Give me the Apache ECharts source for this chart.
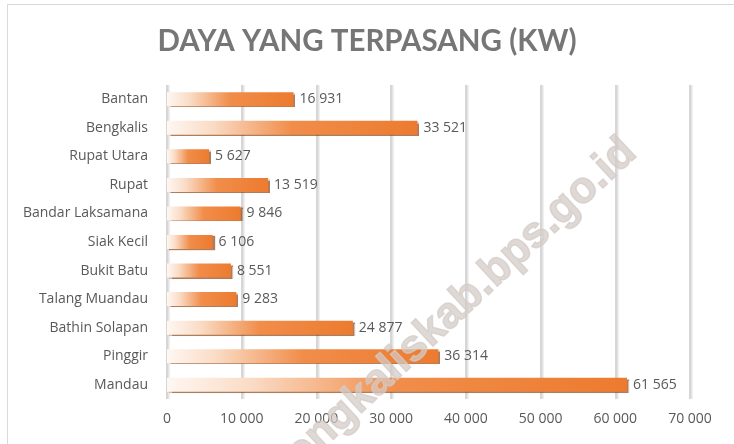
<!DOCTYPE html>
<html>
<head>
<meta charset="utf-8">
<script src="https://cdn.jsdelivr.net/npm/echarts@6/dist/echarts.min.js"></script>
<style>
  html, body { margin: 0; padding: 0; background: #fff; }
  #chart { width: 734px; height: 444px; }
</style>
</head>
<body>
<div id="chart"></div>
<script>
const categories = [
  'Bantan', 'Bengkalis', 'Rupat Utara', 'Rupat', 'Bandar Laksamana',
  'Siak Kecil', 'Bukit Batu', 'Talang Muandau', 'Bathin Solapan', 'Pinggir', 'Mandau'
]
const values = [16931, 33521, 5627, 13519, 9846, 6106, 8551, 9283, 24877, 36314, 61565]

const TEXT_COLOR = '#595959'
const TITLE_COLOR = '#767676'
const GRID_COLOR = '#d6d6d6'
const FONT = '"Open Sans", Lato, sans-serif'

// thousands with a space, like the source
function fmt(v) {
  return String(v).replace(/\B(?=(\d{3})+(?!\d))/g, ' ')
}

const barGradient = new echarts.graphic.LinearGradient(0, 0, 1, 0, [
  { offset: 0, color: '#fef7f2' },
  { offset: 0.18, color: '#fadcc6' },
  { offset: 0.5, color: '#f18d4a' },
  { offset: 1, color: '#ec7b2f' },
])

const chart = echarts.init(document.getElementById('chart'), null, { renderer: 'canvas' })

chart.setOption({
  backgroundColor: '#fff',
  animation: false,
  title: {
    text: 'DAYA YANG TERPASANG (KW)',
    left: 'center',
    top: 21,
    textStyle: {
      color: TITLE_COLOR,
      fontFamily: 'Lato, "Open Sans", sans-serif',
      fontWeight: 'bold',
      fontSize: 29.5,
    },
  },
  grid: {
    left: 167,
    right: 44,
    top: 85,
    bottom: 45,
  },
  xAxis: {
    type: 'value',
    min: 0,
    max: 70000,
    interval: 10000,
    axisLine: { show: false },
    axisTick: { show: false },
    axisLabel: {
      color: TEXT_COLOR,
      fontFamily: FONT,
      fontSize: 14,
      margin: 13,
      formatter: (v) => fmt(v),
    },
    splitLine: {
      lineStyle: {
        color: GRID_COLOR,
        width: 2,
        shadowColor: 'rgba(0,0,0,0.12)',
        shadowOffsetX: 1.5,
        shadowBlur: 1,
      },
    },
  },
  yAxis: {
    type: 'category',
    data: categories,
    inverse: true,
    axisLine: { show: false },
    axisTick: { show: false },
    axisLabel: {
      color: TEXT_COLOR,
      fontFamily: FONT,
      fontSize: 14,
      margin: 19,
    },
  },
  series: [
    {
      type: 'bar',
      data: values,
      barWidth: 14,
      itemStyle: {
        color: barGradient,
        shadowColor: 'rgba(130,55,5,0.65)',
        shadowOffsetX: 2,
        shadowOffsetY: 1,
        shadowBlur: 1,
      },
      label: {
        show: true,
        position: 'right',
        distance: 6,
        color: TEXT_COLOR,
        fontFamily: FONT,
        fontSize: 14,
        formatter: (p) => fmt(p.value),
      },
      z: 3,
    },
  ],
  graphic: [
    {
      type: 'rect',
      left: 5,
      top: 2,
      shape: { width: 740, height: 460 },
      style: { fill: 'none', stroke: '#d9d9d9', lineWidth: 1 },
      silent: true,
    },
    {
      // watermark
      type: 'text',
      x: 452,
      y: 312,
      rotation: Math.PI * 43 / 180,
      z: 100,
      silent: true,
      style: {
        text: 'bengkaliskab.bps.go.id',
        fontFamily: '"Liberation Sans", Arial, sans-serif',
        fontWeight: 'bold',
        fontSize: 44,
        align: 'center',
        verticalAlign: 'middle',
        fill: 'rgba(210,202,198,0.72)',
        stroke: 'rgba(210,202,198,0.72)',
        lineWidth: 1.5,
      },
    },
  ],
})
</script>
</body>
</html>
